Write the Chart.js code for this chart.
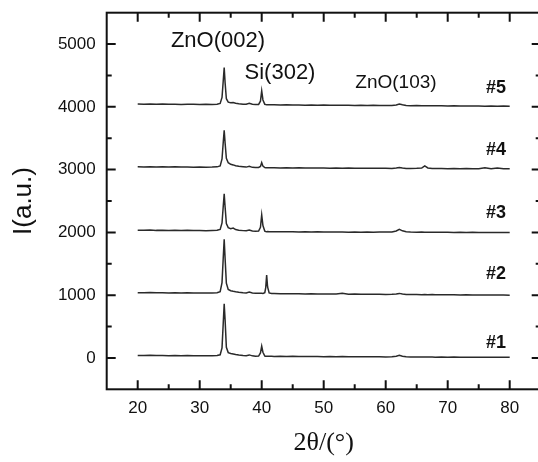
<!DOCTYPE html>
<html>
<head>
<meta charset="utf-8">
<script src="https://cdn.jsdelivr.net/npm/chart.js@4.4.1/dist/chart.umd.min.js"></script>
<style>
  html, body { margin: 0; padding: 0; background: #fff; overflow: hidden; }
  #wrap { width: 548px; height: 462px; position: relative; }
</style>
</head>
<body>
<div id="wrap"><canvas id="xrd"></canvas></div>
<script>
// 2theta grid (deg), shared by all five patterns
var twoTheta = [20,21,22,23,24,25,26,27,28,29,30,31,32,32.8,33.3,33.6,33.8,33.95,34.1,34.3,34.6,35.0,35.4,35.8,36.3,
  37,37.5,38,38.5,39,39.5,39.8,40.0,40.2,40.5,40.65,40.8,40.95,41.2,41.6,
  42,43,44,45,46,47,48,49,50,51,52,53,54,55,56,57,58,59,60,61,
  61.7,62.2,62.7,63.3,64,65,65.8,66.3,66.8,67.5,68,69,70,71,72,73,74,75,76,77,78,79,80];

var s1 = [40,38,41,37,39,36,38,35,37,34,36,33,35,38,50,160,560,861,600,170,85,70,64,55,45,
  38,36,48,33,28,30,80,187,90,30,27,26,27,25,26,
  24,26,23,25,22,24,21,23,20,22,19,21,18,20,17,19,17,18,16,19,
  28,42,27,18,15,16,14,15,13,14,12,14,11,13,11,12,10,12,10,11,9,11,10];

var s2 = [1040,1038,1041,1037,1039,1036,1038,1035,1037,1034,1036,1033,1035,1038,1055,1200,1600,1889,1580,1190,1090,1070,1062,1055,1048,
  1040,1036,1048,1034,1030,1031,1029,1030,1028,1040,1120,1319,1130,1035,1026,
  1025,1023,1024,1021,1023,1020,1022,1019,1020,1017,1019,1030,1016,1018,1015,1016,1013,1015,1012,1014,
  1018,1028,1017,1011,1010,1011,1008,1010,1007,1009,1006,1008,1005,1006,1004,1005,1003,1004,1002,1003,1001,1002,1000];

var s3 = [2035,2033,2036,2032,2034,2031,2033,2030,2032,2029,2031,2028,2030,2033,2048,2150,2420,2616,2400,2140,2075,2060,2068,2045,2035,
  2028,2025,2038,2022,2018,2020,2080,2277,2110,2020,2014,2012,2013,2011,2012,
  2010,2012,2009,2011,2008,2010,2007,2009,2006,2008,2005,2007,2004,2006,2003,2005,2004,2006,2005,2008,
  2022,2048,2025,2010,2005,2003,2005,2003,2004,2002,2003,2001,2003,2000,2002,1999,2001,1998,2000,1998,2000,1997,1998];

var s4 = [3045,3043,3046,3042,3044,3041,3044,3040,3042,3039,3041,3038,3040,3044,3060,3170,3440,3628,3420,3180,3110,3085,3075,3062,3052,
  3045,3040,3052,3036,3033,3034,3050,3111,3055,3032,3030,3031,3029,3030,3028,
  3030,3027,3029,3026,3028,3025,3027,3024,3026,3023,3025,3022,3024,3021,3023,3020,3022,3020,3021,3019,
  3024,3032,3024,3019,3018,3020,3025,3060,3026,3018,3016,3018,3015,3017,3014,3016,3013,3015,3028,3014,3024,3013,3012];

var s5 = [4045,4042,4046,4041,4044,4040,4043,4039,4042,4040,4038,4041,4039,4042,4055,4150,4420,4627,4380,4130,4075,4065,4068,4058,4050,
  4042,4040,4055,4040,4036,4038,4090,4255,4110,4040,4036,4034,4035,4033,4032,
  4034,4030,4032,4029,4031,4027,4030,4026,4028,4025,4027,4024,4026,4023,4025,4022,4024,4021,4022,4020,
  4030,4045,4032,4022,4019,4020,4017,4019,4016,4018,4016,4017,4014,4016,4013,4015,4012,4014,4011,4013,4010,4012,4010];

var sampleNames = ['#1', '#2', '#3', '#4', '#5'];
var peakNames = ['ZnO(002)', 'Si(302)', 'ZnO(103)'];
var xTicks = [20, 30, 40, 50, 60, 70, 80];
var yTicks = [0, 1000, 2000, 3000, 4000, 5000];
var xMinor = [25, 35, 45, 55, 65, 75];
var yMinor = [500, 1500, 2500, 3500, 4500];

var series = [s1, s2, s3, s4, s5];

var makeData = function (ys) {
    var pts = [];
    for (let i = 0; i < twoTheta.length; i++) {
        pts.push({ x: twoTheta[i], y: ys[i] });
    }
    return pts;
};

// where the text labels sit, in data units
var peakPos = [[32.95, 4946], [42.95, 4446], [61.66, 4303]];
var peakFont = ['22px Arial, "Liberation Sans"', '22px Arial, "Liberation Sans"', '19px Arial, "Liberation Sans"'];
var samplePos = [[77.8, 160], [77.8, 1251], [77.8, 2234], [77.8, 3234], [77.8, 4223]];

var frame = {
    id: 'frame',
    afterDraw: function (chart) {
        var ctx = chart.ctx;
        var a = chart.chartArea;
        var xs = chart.scales.x, ys = chart.scales.y;
        ctx.save();
        ctx.strokeStyle = '#111';
        ctx.lineWidth = 2;
        ctx.strokeRect(a.left, a.top, a.right - a.left, a.bottom - a.top);

        ctx.beginPath();
        var tick = function (list, len) {
            list.forEach(function (v) {
                var px = xs.getPixelForValue(v);
                ctx.moveTo(px, a.bottom); ctx.lineTo(px, a.bottom - len);
                ctx.moveTo(px, a.top); ctx.lineTo(px, a.top + len);
            });
        };
        var ytick = function (list, len) {
            list.forEach(function (v) {
                var py = ys.getPixelForValue(v);
                ctx.moveTo(a.left, py); ctx.lineTo(a.left + len, py);
                ctx.moveTo(a.right, py); ctx.lineTo(a.right - len, py);
            });
        };
        tick(xTicks, 9); tick(xMinor, 5);
        ytick(yTicks, 9); ytick(yMinor, 5);
        ctx.stroke();

        ctx.fillStyle = '#111';
        ctx.textAlign = 'center';
        ctx.textBaseline = 'alphabetic';
        for (let i = 0; i < peakNames.length; i++) {
            ctx.font = peakFont[i];
            ctx.fillText(peakNames[i], xs.getPixelForValue(peakPos[i][0]), ys.getPixelForValue(peakPos[i][1]));
        }
        ctx.font = 'bold 18px Arial, "Liberation Sans"';
        for (let i = 0; i < sampleNames.length; i++) {
            ctx.fillText(sampleNames[i], xs.getPixelForValue(samplePos[i][0]), ys.getPixelForValue(samplePos[i][1]));
        }
        ctx.restore();
    }
};

var datasets = [];
for (let i = 0; i < series.length; i++) {
    datasets.push({
        label: sampleNames[i],
        data: makeData(series[i]),
        borderColor: '#2a2a2a',
        borderWidth: 1.5,
        pointRadius: 0,
        tension: 0,
        fill: false
    });
}

Chart.defaults.font.family = 'Arial, "Liberation Sans", sans-serif';
Chart.defaults.color = '#111';

var chart = new Chart(document.getElementById('xrd'), {
    type: 'line',
    data: { datasets: datasets },
    plugins: [frame],
    options: {
        responsive: true,
        maintainAspectRatio: false,
        animation: false,
        layout: { padding: { top: 12.7, right: 7.3, left: 0, bottom: 0 } },
        plugins: { legend: { display: false }, tooltip: { enabled: false } },
        scales: {
            x: {
                type: 'linear',
                min: 15,
                max: 85,
                afterBuildTicks: function (s) { s.ticks = xTicks.map(function (v) { return { value: v }; }); },
                afterFit: function (s) { s.height = 72.7; s.paddingLeft = 0; s.paddingRight = 0; },
                grid: { display: false, drawTicks: false },
                border: { display: false },
                ticks: { font: { size: 17 }, padding: 9, maxRotation: 0, callback: function (v) { return String(v); } },
                title: {
                    display: true,
                    text: '2θ/(°)',
                    font: { family: '"Liberation Serif", "Times New Roman", serif', size: 26 },
                    padding: { top: 0, bottom: 3 }
                }
            },
            y: {
                min: -500,
                max: 5500,
                afterBuildTicks: function (s) { s.ticks = yTicks.map(function (v) { return { value: v }; }); },
                afterFit: function (s) { s.width = 106.7; s.paddingTop = 0; s.paddingBottom = 0; },
                grid: { display: false, drawTicks: false },
                border: { display: false },
                ticks: { font: { size: 17 }, padding: 11, callback: function (v) { return String(v); } },
                title: {
                    display: true,
                    text: 'I(a.u.)',
                    font: { size: 26 },
                    padding: { top: 8, bottom: 0 }
                }
            }
        }
    }
});
</script>
</body>
</html>
